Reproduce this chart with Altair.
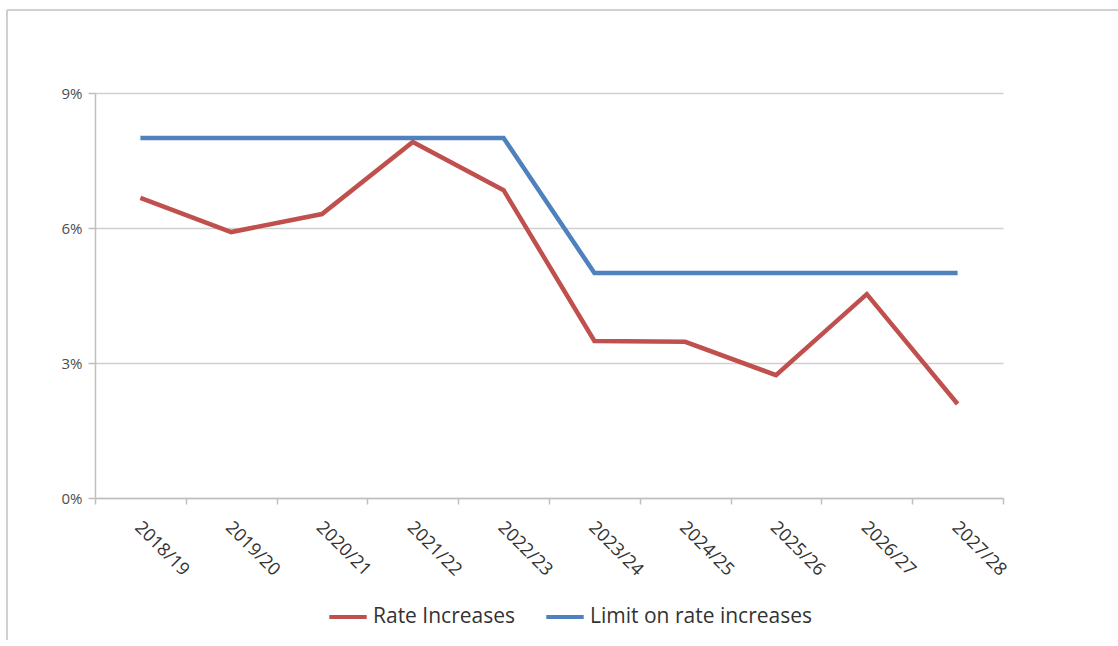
import altair as alt
import pandas as pd

years = ["2018/19", "2019/20", "2020/21", "2021/22", "2022/23",
         "2023/24", "2024/25", "2025/26", "2026/27", "2027/28"]
rate_increases = [0.0667, 0.0591, 0.0631, 0.0791, 0.0684,
                  0.0349, 0.0347, 0.0273, 0.0453, 0.0209]
limit_on_rate = [0.08, 0.08, 0.08, 0.08, 0.08,
                 0.05, 0.05, 0.05, 0.05, 0.05]
series_names = ["Rate Increases", "Limit on rate increases"]
series_colors = ["#C0504D", "#4F81BD"]

rows = []
for y, v in zip(years, rate_increases):
    rows.append({"year": y, "value": v, "series": series_names[0]})
for y, v in zip(years, limit_on_rate):
    rows.append({"year": y, "value": v, "series": series_names[1]})
df = pd.DataFrame(rows)

FONT = "Open Sans"

lines = alt.Chart(df).mark_line(strokeWidth=4.5).encode(
    x=alt.X("year:N", sort=years, title=None,
            scale=alt.Scale(paddingInner=0, paddingOuter=0),
            axis=alt.Axis(labelAngle=45, labelAlign="left", labelBaseline="top",
                          labelPadding=14, tickBand="extent", tickSize=6,
                          tickColor="#BFBFBF", tickWidth=1.5,
                          domainColor="#BFBFBF", domainWidth=1.5,
                          grid=False, labelFontSize=18, labelColor="#333333",
                          labelFont=FONT, labelOffset=3)),
    y=alt.Y("value:Q", title=None,
            scale=alt.Scale(domain=[0, 0.09], nice=False),
            axis=alt.Axis(values=[0, 0.03, 0.06, 0.09], format=".0%",
                          tickSize=7, tickColor="#BFBFBF", tickWidth=1.5,
                          domainColor="#BFBFBF", domainWidth=1.5,
                          gridColor="#D0D0D0", gridWidth=1.5,
                          labelFontSize=15, labelColor="#4D4D4D",
                          labelFont=FONT, labelPadding=6)),
    color=alt.Color("series:N",
                    scale=alt.Scale(domain=series_names, range=series_colors),
                    sort=series_names,
                    legend=alt.Legend(title=None, orient="none",
                                      direction="horizontal",
                                      legendX=232, legendY=503,
                                      symbolType="stroke", symbolStrokeWidth=4,
                                      symbolSize=1400, labelFontSize=21,
                                      labelFont=FONT, labelColor="#333333",
                                      labelLimit=400,
                                      columnPadding=22, labelOffset=4,
                                      padding=0)),
)

frame_top = alt.Chart(df).mark_rule(color="#D0D0D0", strokeWidth=2).encode(
    x=alt.value(-88), x2=alt.value(1023), y=alt.value(-83))
frame_left = alt.Chart(df).mark_rule(color="#D0D0D0", strokeWidth=2).encode(
    x=alt.value(-88), y=alt.value(-83), y2=alt.value(547))

chart = alt.layer(frame_top, frame_left, lines).properties(
    width=908, height=405,
    background="white",
    autosize=alt.AutoSizeParams(type="none"),
    padding={"left": 95, "top": 93, "right": 115, "bottom": 148},
).configure_view(stroke=None)

chart.save("out.html", embed_options={"renderer": "svg", "actions": False})
